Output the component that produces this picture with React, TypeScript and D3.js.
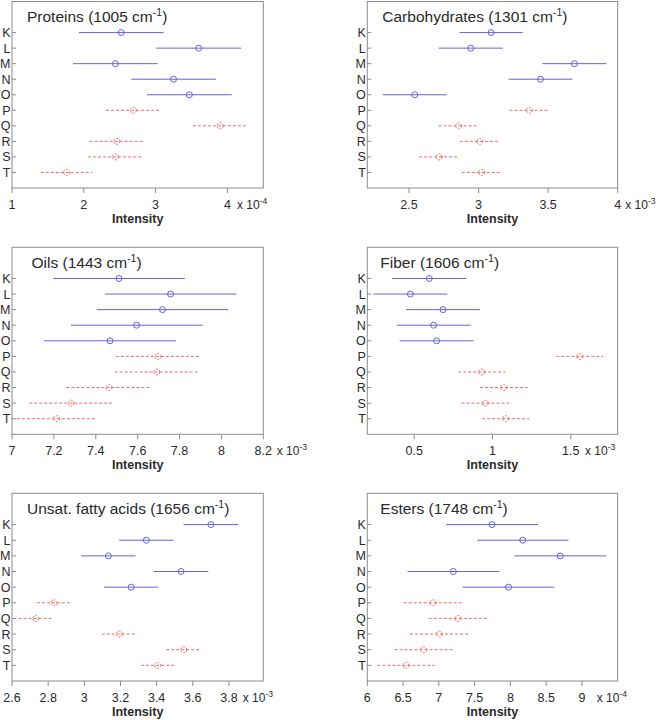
import React from "react";
import * as d3 from "d3";

const categories = ["K", "L", "M", "N", "O", "P", "Q", "R", "S", "T"];
const groupIsBlue = [true, true, true, true, true, false, false, false, false, false];

const proteinsMean = [2.52, 3.6, 2.44, 3.25, 3.47, 2.69, 3.9, 2.46, 2.44, 1.76];
const proteinsErr = [0.59, 0.59, 0.59, 0.59, 0.59, 0.38, 0.38, 0.38, 0.38, 0.36];
const carbsMean = [3.09, 2.944, 3.689, 3.445, 2.541, 3.366, 2.857, 3.009, 2.716, 3.023];
const carbsErr = [0.227, 0.23, 0.23, 0.229, 0.23, 0.144, 0.145, 0.144, 0.144, 0.144];
const oilsMean = [7.511, 7.757, 7.719, 7.595, 7.468, 7.697, 7.691, 7.463, 7.282, 7.213];
const oilsErr = [0.315, 0.314, 0.315, 0.314, 0.315, 0.201, 0.201, 0.203, 0.2, 0.19];
const fiberMean = [0.596, 0.475, 0.684, 0.624, 0.643, 1.558, 0.931, 1.072, 0.954, 1.084];
const fiberErr = [0.237, 0.236, 0.236, 0.236, 0.236, 0.15, 0.15, 0.152, 0.152, 0.15];
const unsatMean = [3.7, 3.343, 3.133, 3.535, 3.259, 2.833, 2.731, 3.193, 3.55, 3.406];
const unsatErr = [0.151, 0.15, 0.151, 0.151, 0.15, 0.095, 0.095, 0.097, 0.097, 0.092];
const estersMean = [7.744, 8.173, 8.696, 7.203, 7.973, 6.919, 7.269, 7.007, 6.788, 6.541];
const estersErr = [0.644, 0.639, 0.641, 0.642, 0.642, 0.41, 0.41, 0.41, 0.408, 0.4];

const titles = ["Proteins (1005 cm", "Carbohydrates (1301 cm", "Oils (1443 cm", "Fiber (1606 cm", "Unsat. fatty acids (1656 cm", "Esters (1748 cm"];
const domains: [number, number][] = [[1, 4.5], [2.2, 4], [7, 8.2], [0.2, 1.8], [2.6, 3.99], [6, 9.5]];
const tickValues = [
  [1, 2, 3, 4],
  [2.5, 3, 3.5, 4],
  [7, 7.2, 7.4, 7.6, 7.8, 8, 8.2],
  [0.5, 1, 1.5],
  [2.6, 2.8, 3, 3.2, 3.4, 3.6, 3.8],
  [6, 6.5, 7, 7.5, 8, 8.5, 9],
];
const exponents = ["-4", "-3", "-3", "-3", "-3", "-4"];
const means = [proteinsMean, carbsMean, oilsMean, fiberMean, unsatMean, estersMean];
const errs = [proteinsErr, carbsErr, oilsErr, fiberErr, unsatErr, estersErr];

// layout
const colLeft = [12, 367.3];
const colRight = [263.3, 617.7];
const rowTop = [1.5, 247.3, 493.3];
const rowBottom = [188, 434.3, 681];
const titleOffset = [15, 15, 19.5, 13, 15, 13];
const expOffset = [-26.3, 7.5, 13.4, -32.7, -20.6, -21];

const BLUE = "#6464dc";
const RED = "#f06868";
const FRAME = "#8c8c8c";
const TEXT = "#2a2a2a";
const FONT = "'Liberation Sans', Arial, Helvetica, sans-serif";

function Panel({ idx }: { idx: number }) {
  const col = idx % 2;
  const row = Math.floor(idx / 2);
  const left = colLeft[col];
  const right = colRight[col];
  const top = rowTop[row];
  const bottom = rowBottom[row];
  const x = d3.scaleLinear().domain(domains[idx]).range([left, right]);
  const y = d3.scaleLinear().domain([0, 12]).range([top, bottom]);
  const yPos = (i: number) => y(i + 2);
  const m = means[idx];
  const e = errs[idx];
  return (
    <g>
      <rect x={left} y={top} width={right - left} height={bottom - top} fill="white" stroke={FRAME} strokeWidth={1} />
      {tickValues[idx].map((t) => (
        <g key={t}>
          <line x1={x(t)} x2={x(t)} y1={bottom} y2={bottom + 5} stroke={FRAME} />
          <text x={x(t)} y={bottom + 20.5} textAnchor="middle" fontSize={12.5} fill={TEXT} fontFamily={FONT}>
            {String(+t.toFixed(2))}
          </text>
        </g>
      ))}
      <text x={right + expOffset[idx]} y={bottom + 20.5} fontSize={12} fill={TEXT} fontFamily={FONT}>
        x 10<tspan fontSize={8.5} dy={-5}>{exponents[idx]}</tspan>
      </text>
      <text x={(left + right) / 2} y={bottom + 34.5} textAnchor="middle" fontSize={12.5} fontWeight="bold" fill={TEXT} fontFamily={FONT}>
        Intensity
      </text>
      {categories.map((c, i) => (
        <g key={c}>
          <line x1={left} x2={left + 4} y1={yPos(i)} y2={yPos(i)} stroke={FRAME} />
          <text x={left - 1.5} y={yPos(i) + 4.5} textAnchor="end" fontSize={12.5} fill={TEXT} fontFamily={FONT}>
            {c}
          </text>
        </g>
      ))}
      {categories.map((c, i) => {
        const col = groupIsBlue[i] ? BLUE : RED;
        const dash = groupIsBlue[i] ? undefined : "3,2";
        return (
          <g key={"d" + c}>
            <line
              x1={x(m[i] - e[i])}
              x2={x(m[i] + e[i])}
              y1={yPos(i)}
              y2={yPos(i)}
              stroke={col}
              strokeWidth={1}
              strokeDasharray={dash}
            />
            <circle
              cx={x(m[i])}
              cy={yPos(i)}
              r={3}
              fill="none"
              stroke={col}
              strokeWidth={1}
              strokeDasharray={groupIsBlue[i] ? undefined : "2,1.3"}
            />
          </g>
        );
      })}
      <text x={left + titleOffset[idx]} y={top + 20.5} fontSize={15.5} fill={TEXT} fontFamily={FONT}>
        {titles[idx]}
        <tspan fontSize={10.5} dy={-6}>-1</tspan>
        <tspan dy={6}>)</tspan>
      </text>
    </g>
  );
}

export default function App() {
  return (
    <svg
      width={657}
      height={720}
      style={{ position: "absolute", left: 0, top: 0, background: "white" }}
    >
      <rect x={0} y={0} width={657} height={720} fill="white" />
      {[0, 1, 2, 3, 4, 5].map((i) => (
        <Panel key={i} idx={i} />
      ))}
    </svg>
  );
}
